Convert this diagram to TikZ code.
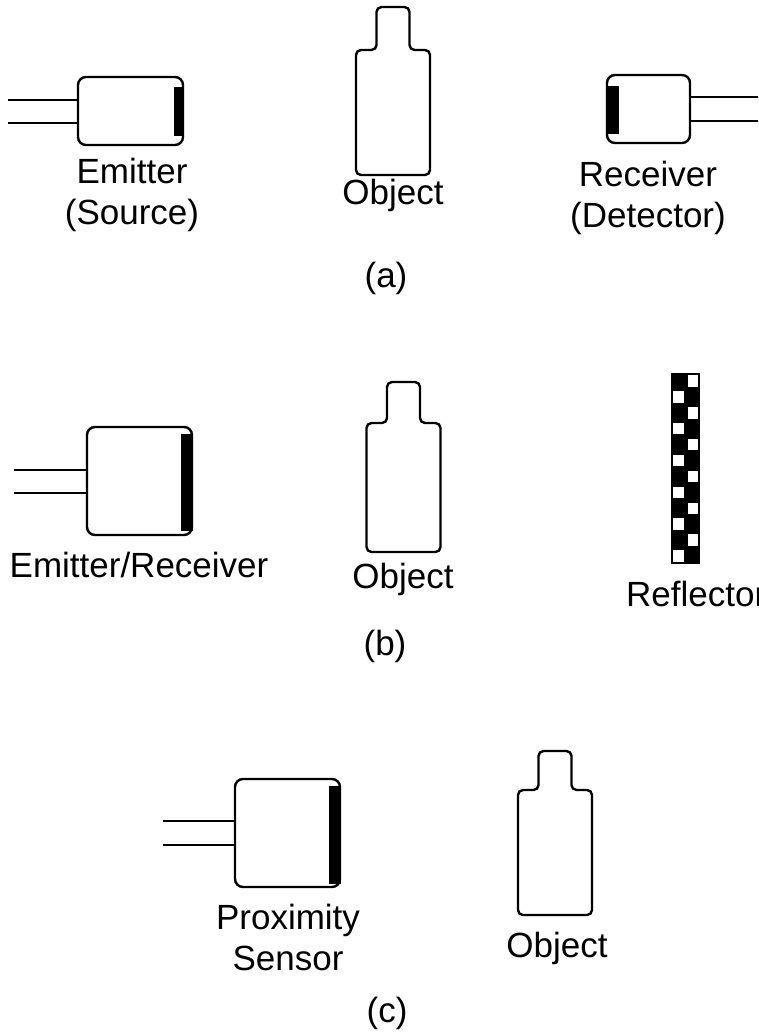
\documentclass[tikz,border=0pt]{standalone}
\usepackage{fontspec}
\setmainfont{Liberation Sans}
\begin{document}
\begin{tikzpicture}[x=1pt,y=-1pt,
        caption/.style={font=\fontsize{35}{41}\selectfont, inner sep=0pt, align=center},
        housing/.style={draw, line width=2.4pt, rounded corners=8pt, fill=white, inner sep=0pt},
        lens/.style={fill=black},
        lead/.style={line width=2pt},
        bottle/.style={line width=2.4pt, rounded corners=5pt}]

    \useasboundingbox (0,0) rectangle (758,1035);

    % Sensor housings
    \foreach \name/\cx/\cy/\w/\h in {emitter/130.5/111/105/68, receiver/648.5/109/83/68, emrec/139.5/481/105/108, prox/287.5/833/105/108} {
            \node[housing, minimum width=\w pt, minimum height=\h pt] (\name) at (\cx,\cy) {};
        }

    % Lenses on the front face
    \foreach \name/\wd/\top/\bot in {emitter/10/11/10, emrec/12/8/5, prox/12/8/4} {
            \fill[lens] ([shift={(-\wd,\top)}]\name.north east) rectangle ([shift={(0,-\bot)}]\name.south east);
        }
    \fill[lens] ([shift={(0,12)}]receiver.north west) rectangle ([shift={(13,-10)}]receiver.south west);

    % Cable leads
    \foreach \name/\x/\ya/\yb/\side in {emitter/8/100/123/west, emrec/14/470/493/west, prox/163/821/845/west, receiver/758/97/121/east} {
            \coordinate (\name-a) at (\x,\ya);
            \coordinate (\name-b) at (\x,\yb);
            \draw[lead] (\name-a) -- (\name-a -| \name.\side);
            \draw[lead] (\name-b) -- (\name-b -| \name.\side);
        }

    % Bottles
    \foreach \name/\cx/\top/\sh/\bot in {obja/393/7/50/175, objb/403.5/382/423/552, objc/555/751/790/915} {
            \draw[bottle] (\cx-37,\bot) -- (\cx-37,\sh) -- (\cx-16.5,\sh) -- (\cx-16.5,\top)
                -- (\cx+16.5,\top) -- (\cx+16.5,\sh) -- (\cx+37,\sh) -- (\cx+37,\bot) -- cycle;
            \coordinate (\name) at (\cx,\bot);
        }

    % Reflector strip
    \def\cellW{14.5}
    \def\cellH{15.917}
    \fill (671,373) rectangle (700,564);
    \foreach \r in {0,...,11} {
            \pgfmathsetmacro\col{mod(\r,2)==0 ? 1 : 0}
            \fill[white] (671+\col*\cellW+2.2,373+\r*\cellH+2.2) rectangle ++(10.3,11.5);
        }

    % Labels
    \node[caption] (emitter-label) at (132,195) {Emitter\\(Source)};
    \node[caption] (obja-label) at (393,195) {Object};
    \node[caption] (receiver-label) at (648,198) {Receiver\\(Detector)};
    \node[caption] (a-label) at (386,278) {(a)};

    \node[caption] (emrec-label) at (139,565) {Emitter/Receiver};
    \node[caption] (objb-label) at (403,579) {Object};
    \node[caption, anchor=west] (refl-label) at (626,594) {Reflector};
    \node[caption] (b-label) at (385,646) {(b)};

    \node[caption] (prox-label) at (288,937) {Proximity\\Sensor};
    \node[caption] (objc-label) at (557,948) {Object};
    \node[caption] (c-label) at (387,1013) {(c)};
\end{tikzpicture}
\end{document}
